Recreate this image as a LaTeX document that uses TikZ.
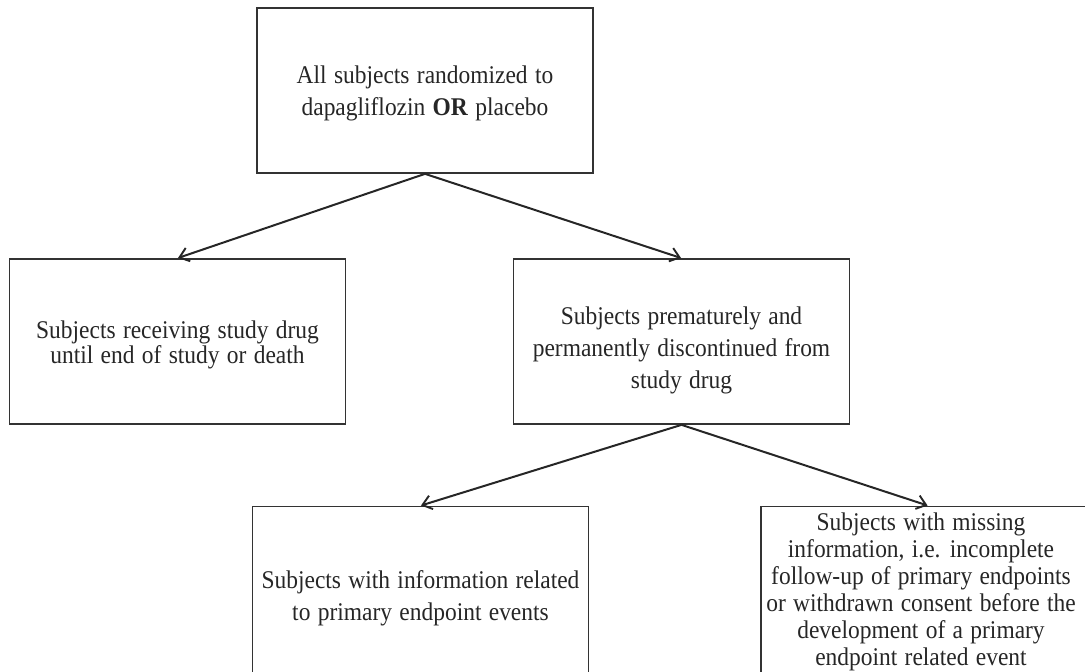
\documentclass[tikz,border=0pt]{standalone}
\usepackage{fontspec}
\setmainfont{Liberation Serif}[FakeStretch=0.92, WordSpace=1.25]
\usetikzlibrary{arrows.meta}
\begin{document}
\begin{tikzpicture}[x=1pt,y=-1pt,
  box/.style={draw=black!80, line width=1.7pt, minimum width=336pt, minimum height=165pt, inner sep=0pt},
  txt/.style={align=center, font=\fontsize{25.5}{32}\selectfont, text=black!85, inner sep=0pt},
  conn/.style={draw=black!85, line width=2pt, -{Straight Barb[length=9pt,width=14pt,line width=1.9pt]}, shorten >=0.5pt}]
\useasboundingbox (0,0) rectangle (1085,672);
\clip (0,0) rectangle (1085,672);
\node[box] (top) at (425,90.5) {};
\node[txt] (toptxt) at (425,93) {All subjects randomized to\\dapagliflozin \textbf{OR} placebo};
\node[box] (left) at (177.5,341.5) {};
\node[txt, font=\fontsize{25.5}{25}\selectfont] (lefttxt) at (177.5,345) {Subjects receiving study drug\\until end of study or death};
\node[box] (mid) at (681.5,341.5) {};
\node[txt] (midtxt) at (681.5,350) {Subjects prematurely and\\permanently discontinued from\\study drug};
\node[box, minimum height=168pt] (bl) at (420.5,590.5) {};
\node[txt] (bltxt) at (420.5,598) {Subjects with information related\\to primary endpoint events};
\node[box, minimum height=168pt, minimum width=344pt] (br) at (933,590.5) {};
\node[txt, font=\fontsize{25.5}{27}\selectfont] (brtxt) at (921,592) {Subjects with missing\\information, i.e. incomplete\\follow-up of primary endpoints\\or withdrawn consent before the\\development of a primary\\endpoint related event};
\draw[conn] (top.south) -- (left.north);
\draw[conn] (top.south) -- (mid.north);
\draw[conn] (mid.south) -- (bl.north);
\draw[conn] (mid.south) -- (br.north -| 928,0);
\end{tikzpicture}
\end{document}
